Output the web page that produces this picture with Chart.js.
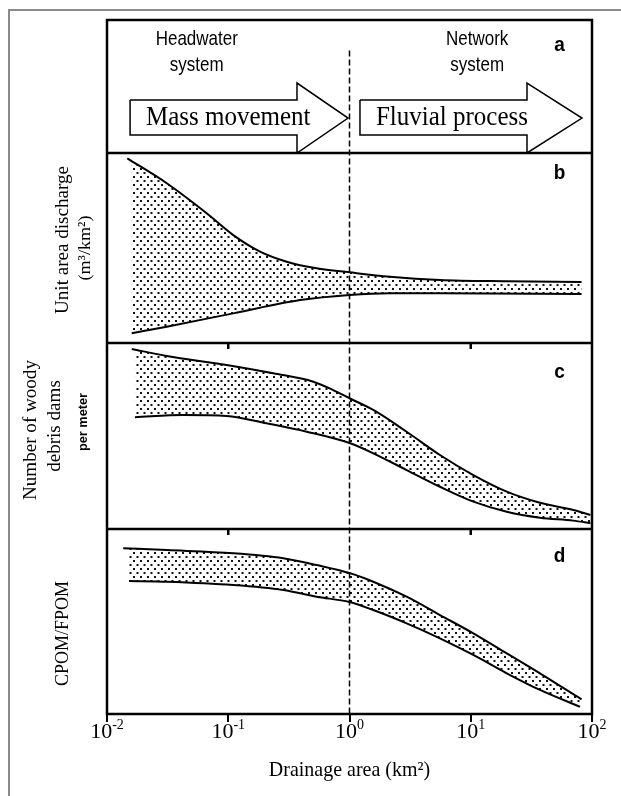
<!DOCTYPE html>
<html>
<head>
<meta charset="utf-8">
<script src="https://cdn.jsdelivr.net/npm/chart.js@4.4.0/dist/chart.umd.min.js"></script>
<style>
  html, body { margin: 0; padding: 0; background: #fff; }
  canvas { display: block; }
</style>
</head>
<body>
<canvas id="chart" width="621" height="796"></canvas>
<script>
// x axis: drainage area (km2), log scale
const xTicks = [0.01, 0.1, 1, 10, 100];
const xTickExp = ['-2', '-1', '0', '1', '2'];
const panelTickValues = [0.1, 10];

// panel a - process arrows (panel units 0-100)
const arrow1X = [0.0155, 0.369, 0.369, 0.973, 0.369, 0.369, 0.0155, 0.0155];
const arrow2X = [1.22, 29.1, 29.1, 82.7, 29.1, 29.1, 1.22, 1.22];
const arrowY = [39.8, 39.8, 52.6, 26.3, 0, 13.5, 13.5, 39.8];

// panel b - unit area discharge (relative)
const bUpperX = [0.0147, 0.0311, 0.0664, 0.11, 0.183, 0.303, 0.536, 1.0, 2.16, 5.57, 19.8, 82];
const bUpperY = [97.2, 84.1, 68.3, 56.8, 48.1, 42.8, 39.3, 37.2, 34.9, 33.2, 32.5, 32.1];
const bLowerX = [0.016, 0.0311, 0.11, 0.391, 1.0, 2.16, 5.57, 82];
const bLowerY = [5.1, 8.6, 15.6, 22.6, 25.3, 26.2, 26.2, 25.8];

// panel c - woody debris dams per meter (relative)
const cUpperX = [0.016, 0.0311, 0.097, 0.235, 0.503, 0.734, 1.0, 1.57, 2.96, 5.57, 10.5, 19.8, 37.2, 70.1, 97];
const cUpperY = [96.8, 93.0, 88.2, 83.7, 79.2, 74.7, 70.3, 64.0, 52.3, 39.8, 29.0, 20.1, 14.1, 10.2, 7.5];
const cLowerX = [0.017, 0.0426, 0.097, 0.207, 0.444, 1.0, 1.57, 2.96, 5.57, 10.5, 19.8, 37.2, 70.1, 97];
const cLowerY = [60.1, 61.3, 60.8, 56.8, 52.3, 46.2, 40.7, 31.7, 22.7, 14.7, 9.3, 6.1, 4.5, 3.1];

// panel d - CPOM/FPOM (relative)
const dUpperX = [0.0136, 0.0311, 0.11, 0.284, 0.536, 1.0, 1.57, 2.96, 5.57, 10.5, 19.8, 37.2, 82];
const dUpperY = [89.6, 88.6, 86.9, 84.2, 80.5, 76.2, 71.5, 63.4, 53.5, 43.6, 32.8, 22.0, 7.9];
const dLowerX = [0.0152, 0.0311, 0.11, 0.284, 0.536, 1.0, 1.57, 2.96, 5.57, 10.5, 19.8, 37.2, 79.6];
const dLowerY = [71.9, 71.5, 69.7, 67.0, 63.4, 60.5, 56.2, 49.0, 40.9, 31.9, 22.0, 13.0, 3.9];

// divider between headwater and network systems
const dividerX = 1;
const dividerTop = 77;

const panelIds = ['yA', 'yB', 'yC', 'yD'];
const panelLabels = ['a', 'b', 'c', 'd'];
const panelLabelY = [81, 89.5, 84, 85];
const panelLabelX = 54;

const serif = '"Liberation Serif", "Times New Roman", serif';
const sans = '"Liberation Sans", Arial, sans-serif';

function toPoints(xs, ys) {
    return xs.map((x, i) => ({ x: x, y: ys[i] }));
}

function dotPattern() {
    const c = document.createElement('canvas');
    c.width = 7;
    c.height = 8;
    const g = c.getContext('2d');
    g.fillStyle = '#111';
    g.fillRect(0, 0, 2, 2);
    g.fillRect(3.5, 4, 2, 2);
    return document.getElementById('chart').getContext('2d').createPattern(c, 'repeat');
}

const dots = dotPattern();

function band(axis, lowerX, lowerY, upperX, upperY) {
    const common = {
        yAxisID: axis,
        borderColor: '#000',
        borderWidth: 2,
        pointRadius: 0,
        cubicInterpolationMode: 'monotone'
    };
    return [
        Object.assign({ data: toPoints(lowerX, lowerY), fill: false }, common),
        Object.assign({ data: toPoints(upperX, upperY), fill: '-1', backgroundColor: dots }, common)
    ];
}

function arrow(xs) {
    return {
        yAxisID: 'yA',
        data: toPoints(xs, arrowY),
        borderColor: '#000',
        borderWidth: 1.5,
        pointRadius: 0,
        tension: 0,
        fill: false
    };
}

function panelAxis(weight, stackWeight) {
    return {
        type: 'linear',
        position: 'left',
        stack: 'panels',
        stackWeight: stackWeight,
        weight: weight,
        min: 0,
        max: 100,
        ticks: { display: false },
        grid: { display: false },
        border: { display: false },
        afterFit: s => { s.width = 0; }
    };
}

// the scanned figure's lettering is slightly taller than normal, stretch it a little
function text(ctx, s, x, y, font, align, base, stretch) {
    ctx.save();
    ctx.translate(x, y);
    ctx.scale(1, stretch || 1.08);
    ctx.font = font;
    ctx.textAlign = align || 'center';
    ctx.textBaseline = base || 'middle';
    ctx.fillText(s, 0, 0);
    ctx.restore();
}

function vtext(ctx, s, x, y, font, stretch) {
    ctx.save();
    ctx.translate(x, y);
    ctx.scale(1, stretch || 1.06);
    ctx.rotate(-Math.PI / 2);
    ctx.font = font;
    ctx.textAlign = 'center';
    ctx.textBaseline = 'middle';
    ctx.fillText(s, 0, 0);
    ctx.restore();
}

const decorations = {
    id: 'decorations',
    beforeDraw(chart) {
        const ctx = chart.ctx;
        ctx.save();
        ctx.fillStyle = '#fff';
        ctx.fillRect(0, 0, chart.width, chart.height);
        // outer grey frame
        ctx.strokeStyle = '#8a8a8a';
        ctx.lineWidth = 2;
        ctx.beginPath();
        ctx.moveTo(9, chart.height);
        ctx.lineTo(9, 10);
        ctx.lineTo(chart.width, 10);
        ctx.stroke();
        ctx.restore();
    },
    afterDatasetsDraw(chart) {
        const ctx = chart.ctx;
        const area = chart.chartArea;
        const x = chart.scales.x;
        ctx.save();
        ctx.strokeStyle = '#000';
        ctx.fillStyle = '#000';

        // dashed divider line
        const dx = x.getPixelForValue(dividerX);
        ctx.lineWidth = 1.5;
        ctx.setLineDash([6, 3]);
        ctx.beginPath();
        ctx.moveTo(dx, chart.scales.yA.getPixelForValue(dividerTop));
        ctx.lineTo(dx, area.bottom);
        ctx.stroke();
        ctx.setLineDash([]);

        // frame and panel dividers
        ctx.lineWidth = 2.5;
        ctx.strokeRect(area.left, area.top, area.right - area.left, area.bottom - area.top);
        ctx.beginPath();
        panelIds.slice(1).forEach(id => {
            const t = chart.scales[id].top;
            ctx.moveTo(area.left, t);
            ctx.lineTo(area.right, t);
        });
        // short ticks at top of panels c and d
        ['yC', 'yD'].forEach(id => {
            const t = chart.scales[id].top;
            panelTickValues.forEach(v => {
                const px = x.getPixelForValue(v);
                ctx.moveTo(px, t);
                ctx.lineTo(px, t + 6);
            });
        });
        ctx.stroke();

        // panel letters
        panelIds.forEach((id, i) => {
            text(ctx, panelLabels[i], x.getPixelForValue(panelLabelX),
                chart.scales[id].getPixelForValue(panelLabelY[i]), 'bold 19px ' + sans);
        });

        // panel a texts
        const yA = chart.scales.yA;
        text(ctx, 'Headwater', x.getPixelForValue(0.055), yA.getPixelForValue(85), '17px ' + sans, 'center', 'middle', 1.15);
        text(ctx, 'system', x.getPixelForValue(0.055), yA.getPixelForValue(65.4), '17px ' + sans, 'center', 'middle', 1.15);
        text(ctx, 'Network', x.getPixelForValue(11.3), yA.getPixelForValue(85), '17px ' + sans, 'center', 'middle', 1.15);
        text(ctx, 'system', x.getPixelForValue(11.3), yA.getPixelForValue(65.4), '17px ' + sans, 'center', 'middle', 1.15);
        text(ctx, 'Mass movement', x.getPixelForValue(0.1), yA.getPixelForValue(26.3), '25px ' + serif);
        text(ctx, 'Fluvial process', x.getPixelForValue(7.0), yA.getPixelForValue(26.3), '25px ' + serif);
        ctx.restore();
    },
    afterDraw(chart) {
        const ctx = chart.ctx;
        const area = chart.chartArea;
        const x = chart.scales.x;
        ctx.save();
        ctx.fillStyle = '#000';

        // x tick labels with superscript exponents
        xTicks.forEach((v, i) => {
            const cx = x.getPixelForValue(v);
            ctx.font = '22px ' + serif;
            const w1 = ctx.measureText('10').width;
            ctx.font = '14px ' + serif;
            const w2 = ctx.measureText(xTickExp[i]).width;
            const left = cx - (w1 + w2) / 2;
            text(ctx, '10', left, area.bottom + 24, '22px ' + serif, 'left', 'alphabetic', 1);
            text(ctx, xTickExp[i], left + w1, area.bottom + 15, '14px ' + serif, 'left', 'alphabetic', 1);
        });
        text(ctx, 'Drainage area (km\u00b2)', (area.left + area.right) / 2, area.bottom + 62,
            '20px ' + serif, 'center', 'alphabetic', 1.05);

        // y titles for each panel
        const mid = id => (chart.scales[id].top + chart.scales[id].bottom) / 2;
        vtext(ctx, 'Unit area discharge', area.left - 44, mid('yB') - 8, '18px ' + serif);
        vtext(ctx, '(m\u00b3/km\u00b2)', area.left - 21, mid('yB'), '17px ' + serif);
        vtext(ctx, 'Number of woody', area.left - 76, mid('yC') - 6, '18px ' + serif);
        vtext(ctx, 'debris dams', area.left - 52, mid('yC') - 10, '18px ' + serif);
        vtext(ctx, 'per meter', area.left - 23, mid('yC') - 14, 'bold 12px ' + sans);
        vtext(ctx, 'CPOM/FPOM', area.left - 44, mid('yD') + 12, '18px ' + serif, 1);
        ctx.restore();
    }
};

new Chart(document.getElementById('chart'), {
    type: 'line',
    data: {
        datasets: [
            arrow(arrow1X),
            arrow(arrow2X),
            ...band('yB', bLowerX, bLowerY, bUpperX, bUpperY),
            ...band('yC', cLowerX, cLowerY, cUpperX, cUpperY),
            ...band('yD', dLowerX, dLowerY, dUpperX, dUpperY)
        ]
    },
    options: {
        responsive: false,
        animation: false,
        layout: { padding: { left: 107, top: 20, right: 29, bottom: 0 } },
        plugins: {
            legend: { display: false },
            tooltip: { enabled: false }
        },
        scales: {
            x: {
                type: 'logarithmic',
                min: 0.01,
                max: 100,
                afterBuildTicks: s => { s.ticks = xTicks.map(v => ({ value: v })); },
                afterFit: s => { s.height = 82; },
                ticks: { callback: () => '', maxRotation: 0 },
                grid: { drawOnChartArea: false, color: '#000', lineWidth: 2, tickLength: 8 },
                border: { color: '#000', width: 2 }
            },
            yA: panelAxis(4, 133),
            yB: panelAxis(3, 190),
            yC: panelAxis(2, 186),
            yD: panelAxis(1, 185)
        }
    },
    plugins: [decorations]
});
</script>
</body>
</html>
